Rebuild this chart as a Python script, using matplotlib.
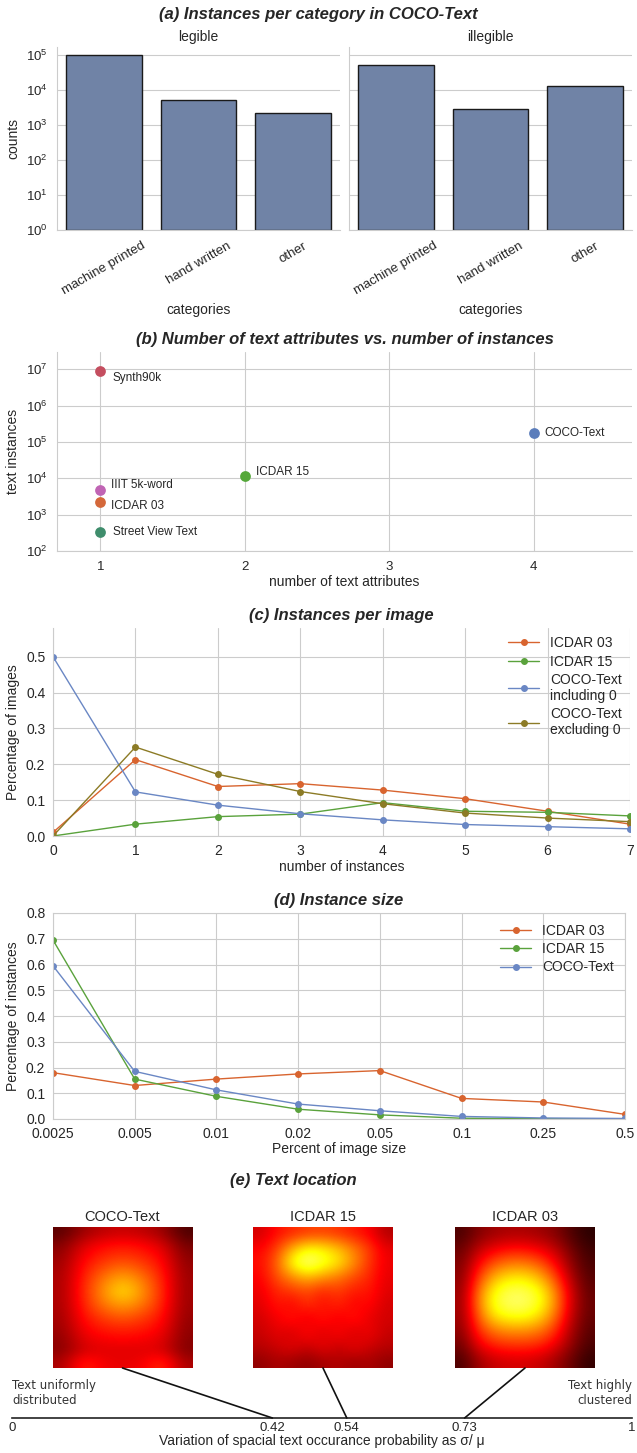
import numpy as np
import matplotlib
matplotlib.use("Agg")
import matplotlib.pyplot as plt
import seaborn as sns
from matplotlib.patches import ConnectionPatch

sns.set_style("whitegrid")
plt.rcParams['font.family'] = ['Liberation Sans', 'DejaVu Sans']
plt.rcParams['text.color'] = '#262626'
plt.rcParams['axes.labelcolor'] = '#262626'
plt.rcParams['xtick.color'] = '#262626'
plt.rcParams['ytick.color'] = '#262626'

# (a) instances per category
categories = ["machine printed", "hand written", "other"]
legible_counts = [9.5e4, 5.0e3, 2.2e3]
illegible_counts = [5.2e4, 2.8e3, 1.3e4]

# (b) datasets: attributes vs instances
datasets = ["Synth90k", "COCO-Text", "ICDAR 15", "IIIT 5k-word", "ICDAR 03", "Street View Text"]
n_attributes = [1, 4, 2, 1, 1, 1]
n_instances = [8.8e6, 1.74e5, 1.17e4, 4.9e3, 2.2e3, 340]
dataset_colors = ["#c44e5f", "#5b7dbb", "#55a83a", "#c064b4", "#d4683a", "#3f8d6c"]

# (c) instances per image
n_inst = [0, 1, 2, 3, 4, 5, 6, 7]
icdar03_per_image = [0.01, 0.213, 0.138, 0.146, 0.128, 0.104, 0.069, 0.033]
icdar15_per_image = [0.0, 0.033, 0.054, 0.061, 0.093, 0.069, 0.066, 0.056]
coco_incl0 = [0.5, 0.123, 0.086, 0.062, 0.045, 0.032, 0.026, 0.020]
coco_excl0 = [0.0, 0.248, 0.172, 0.124, 0.090, 0.064, 0.050, 0.040]

# (d) instance size
size_bins = ["0.0025", "0.005", "0.01", "0.02", "0.05", "0.1", "0.25", "0.5"]
icdar03_size = [0.180, 0.130, 0.155, 0.175, 0.188, 0.080, 0.066, 0.018]
icdar15_size = [0.695, 0.155, 0.088, 0.038, 0.016, 0.003, 0.001, 0.0]
coco_size = [0.595, 0.185, 0.113, 0.058, 0.032, 0.010, 0.004, 0.002]

# (e) text location heat maps (coarse grids)
heat_coco = [
    [0.12, 0.22, 0.27, 0.29, 0.27, 0.22, 0.10],
    [0.18, 0.31, 0.37, 0.39, 0.37, 0.31, 0.16],
    [0.21, 0.36, 0.42, 0.45, 0.42, 0.36, 0.19],
    [0.23, 0.39, 0.48, 0.54, 0.48, 0.39, 0.21],
    [0.24, 0.41, 0.55, 0.64, 0.55, 0.41, 0.22],
    [0.24, 0.42, 0.58, 0.71, 0.58, 0.42, 0.22],
    [0.24, 0.41, 0.55, 0.62, 0.55, 0.41, 0.22],
    [0.23, 0.39, 0.47, 0.52, 0.47, 0.39, 0.21],
    [0.22, 0.36, 0.41, 0.43, 0.41, 0.36, 0.20],
    [0.20, 0.33, 0.36, 0.37, 0.36, 0.33, 0.19],
    [0.19, 0.30, 0.32, 0.32, 0.32, 0.31, 0.18],
    [0.24, 0.42, 0.35, 0.33, 0.35, 0.44, 0.24],
]
heat_icdar15 = [
    [0.30, 0.38, 0.42, 0.45, 0.46, 0.44, 0.40, 0.36, 0.25],
    [0.36, 0.45, 0.62, 0.74, 0.72, 0.65, 0.55, 0.45, 0.33],
    [0.38, 0.50, 0.76, 0.90, 0.80, 0.72, 0.58, 0.44, 0.34],
    [0.36, 0.48, 0.58, 0.65, 0.60, 0.55, 0.48, 0.42, 0.33],
    [0.34, 0.42, 0.45, 0.48, 0.42, 0.46, 0.40, 0.40, 0.32],
    [0.32, 0.40, 0.36, 0.44, 0.38, 0.42, 0.36, 0.38, 0.30],
    [0.30, 0.35, 0.40, 0.33, 0.40, 0.34, 0.40, 0.33, 0.30],
    [0.28, 0.33, 0.30, 0.38, 0.31, 0.37, 0.30, 0.35, 0.28],
    [0.26, 0.29, 0.33, 0.28, 0.34, 0.28, 0.34, 0.29, 0.26],
    [0.20, 0.24, 0.22, 0.20, 0.23, 0.25, 0.22, 0.24, 0.20],
]
heat_icdar03 = [
    [0.10, 0.18, 0.22, 0.24, 0.24, 0.22, 0.18, 0.10, 0.05],
    [0.15, 0.28, 0.36, 0.40, 0.40, 0.36, 0.28, 0.16, 0.08],
    [0.18, 0.38, 0.52, 0.58, 0.58, 0.52, 0.38, 0.20, 0.10],
    [0.20, 0.48, 0.68, 0.76, 0.76, 0.68, 0.50, 0.26, 0.12],
    [0.22, 0.56, 0.78, 0.86, 0.86, 0.78, 0.58, 0.30, 0.14],
    [0.22, 0.52, 0.74, 0.80, 0.80, 0.72, 0.54, 0.28, 0.14],
    [0.20, 0.44, 0.56, 0.60, 0.60, 0.56, 0.44, 0.24, 0.12],
    [0.16, 0.34, 0.42, 0.44, 0.44, 0.42, 0.34, 0.20, 0.10],
    [0.10, 0.22, 0.28, 0.30, 0.30, 0.28, 0.22, 0.14, 0.06],
]
heat_names = ["COCO-Text", "ICDAR 15", "ICDAR 03"]
variation = [0.42, 0.54, 0.73]

W, H = 637, 1453


def px(l, t, r, b):
    return [l / W, 1 - b / H, (r - l) / W, (b - t) / H]


fig = plt.figure(figsize=(W / 100, H / 100), dpi=100)
title_kw = dict(fontsize=12, fontweight="bold", fontstyle="italic")

# ---------------- (a)
ax_l = fig.add_axes(px(57, 47, 340, 230))
ax_r = fig.add_axes(px(349, 47, 632, 230), sharey=ax_l)
for ax, vals, name in [(ax_l, legible_counts, "legible"), (ax_r, illegible_counts, "illegible")]:
    x = np.arange(len(categories))
    ax.bar(x, vals, width=0.8, bottom=1, color="#7083a6", edgecolor="#1a1a1a", linewidth=1)
    ax.set_yscale("log")
    ax.set_ylim(1, 1.64e5)
    ax.set_xlim(-0.5, 2.5)
    ax.set_xticks(x)
    ax.set_xticklabels(categories, rotation=30, fontsize=9.5)
    ax.set_title(name, fontsize=10, pad=4)
    ax.set_xlabel("categories", fontsize=10)
    ax.grid(axis="x", visible=False)
    for s in ["top", "right"]:
        ax.spines[s].set_visible(False)
    ax.tick_params(axis="y", labelsize=9.5)
ax_l.set_ylabel("counts", fontsize=10)
plt.setp(ax_r.get_yticklabels(), visible=False)
ax_r.tick_params(axis="y", length=0)
fig.text(0.5, 1 - 14 / H, "(a) Instances per category in COCO-Text", ha="center", va="center", **title_kw)

# ---------------- (b)
ax_b = fig.add_axes(px(57, 352, 632, 551))
label_offsets = {
    "Synth90k": (9, -5, "center"),
    "COCO-Text": (8, 0, "center"),
    "ICDAR 15": (8, 3, "center"),
    "IIIT 5k-word": (8, 3, "center"),
    "ICDAR 03": (8, -3, "center"),
    "Street View Text": (9, 0, "center"),
}
for name, xa, yi, c in zip(datasets, n_attributes, n_instances, dataset_colors):
    ax_b.scatter(xa, yi, s=60, color=c, zorder=3, linewidths=0)
    dx, dy, va = label_offsets[name]
    ax_b.annotate(name, (xa, yi), xytext=(dx, dy), textcoords="offset points",
                  fontsize=8.5, va=va, ha="left")
ax_b.set_yscale("log")
ax_b.set_ylim(100, 3e7)
ax_b.set_xlim(0.7, 4.68)
ax_b.set_xticks([1, 2, 3, 4])
ax_b.set_xlabel("number of text attributes", fontsize=10, labelpad=2)
ax_b.set_ylabel("text instances", fontsize=10)
ax_b.tick_params(labelsize=9.5)
ax_b.yaxis.set_minor_locator(matplotlib.ticker.NullLocator())
for s in ["top", "right"]:
    ax_b.spines[s].set_visible(False)
ax_b.set_title("(b) Number of text attributes vs. number of instances", pad=6, **title_kw)

# ---------------- (c)
ax_c = fig.add_axes(px(53, 628, 630, 836))
line_kw = dict(marker="o", markersize=4, linewidth=1)
ax_c.plot(n_inst, icdar03_per_image, color="#d8642f", label="ICDAR 03", **line_kw)
ax_c.plot(n_inst, icdar15_per_image, color="#5aa23c", label="ICDAR 15", **line_kw)
ax_c.plot(n_inst, coco_incl0, color="#6a87c4", label="COCO-Text\nincluding 0", **line_kw)
ax_c.plot(n_inst, coco_excl0, color="#8c7b26", label="COCO-Text\nexcluding 0", **line_kw)
ax_c.set_xlim(0, 7)
ax_c.set_ylim(0, 0.58)
ax_c.set_yticks([0.0, 0.1, 0.2, 0.3, 0.4, 0.5])
ax_c.set_xlabel("number of instances", fontsize=10, labelpad=2)
ax_c.set_ylabel("Percentage of images", fontsize=10)
ax_c.tick_params(labelsize=10, pad=2)
for s in ["top", "right"]:
    ax_c.spines[s].set_visible(False)
ax_c.legend(loc="upper right", frameon=False, fontsize=10, handlelength=2.2,
            labelspacing=0.3, borderaxespad=0.2)
ax_c.set_title("(c) Instances per image", pad=6, **title_kw)

# ---------------- (d)
ax_d = fig.add_axes(px(53, 913, 625, 1119))
xs = np.arange(len(size_bins))
ax_d.plot(xs, icdar03_size, color="#d8642f", label="ICDAR 03", **line_kw)
ax_d.plot(xs, icdar15_size, color="#5aa23c", label="ICDAR 15", **line_kw)
ax_d.plot(xs, coco_size, color="#6a87c4", label="COCO-Text", **line_kw)
ax_d.set_xlim(0, 7)
ax_d.set_ylim(0, 0.8)
ax_d.set_yticks(np.arange(0, 0.81, 0.1))
ax_d.set_xticks(xs)
ax_d.set_xticklabels(size_bins)
ax_d.set_xlabel("Percent of image size", fontsize=10, labelpad=1)
ax_d.set_ylabel("Percentage of instances", fontsize=10)
ax_d.tick_params(labelsize=10, pad=2)
ax_d.legend(loc="upper right", frameon=False, fontsize=10, handlelength=2.2,
            labelspacing=0.3, borderaxespad=0.4)
ax_d.set_title("(d) Instance size", pad=6, **title_kw)

# ---------------- (e)
fig.text(0.5 - 25 / W, 1 - 1180 / H, "(e) Text location", ha="center", va="center", **title_kw)
ax_s = fig.add_axes(px(12, 1417, 632, 1418))
ax_s.set_xlim(0, 1)
ax_s.set_ylim(0, 1)
ax_s.grid(False)
ax_s.set_facecolor("none")
for s in ["top", "right", "left"]:
    ax_s.spines[s].set_visible(False)
ax_s.spines["bottom"].set_color("#222222")
ax_s.spines["bottom"].set_linewidth(1.2)
ax_s.set_yticks([])
ticks = [0] + variation + [1]
ax_s.set_xticks(ticks)
ax_s.set_xticklabels(["0"] + [f"{v:.2f}" for v in variation] + ["1"])
ax_s.tick_params(axis="x", length=0, pad=3, labelsize=9.5)
ax_s.set_xlabel("Variation of spacial text occurance probability as σ/ μ", fontsize=10, labelpad=0)

img_boxes = [(53, 192), (253, 393), (455, 595)]
for (l, r), grid, name, v in zip(img_boxes, [heat_coco, heat_icdar15, heat_icdar03], heat_names, variation):
    ax_h = fig.add_axes(px(l, 1227, r, 1368))
    ax_h.imshow(np.array(grid), cmap="hot", vmin=0, vmax=1, aspect="auto", interpolation="bicubic")
    ax_h.set_axis_off()
    ax_h.set_title(name, fontsize=10.5, pad=4)
    con = ConnectionPatch(xyA=(0.5, 0), coordsA=ax_h.transAxes, xyB=(v, 0), coordsB=ax_s.transData,
                          color="#111111", linewidth=1.2)
    fig.add_artist(con)

fig.text(12 / W, 1 - 1393 / H, "Text uniformly\ndistributed", ha="left", va="center",
         fontsize=8.5, family="DejaVu Sans", color="#333333", linespacing=1.2)
fig.text(632 / W, 1 - 1393 / H, "Text highly\nclustered", ha="right", va="center",
         fontsize=8.5, family="DejaVu Sans", color="#333333", linespacing=1.2, multialignment="right")

fig.savefig("out.png", dpi=100)
